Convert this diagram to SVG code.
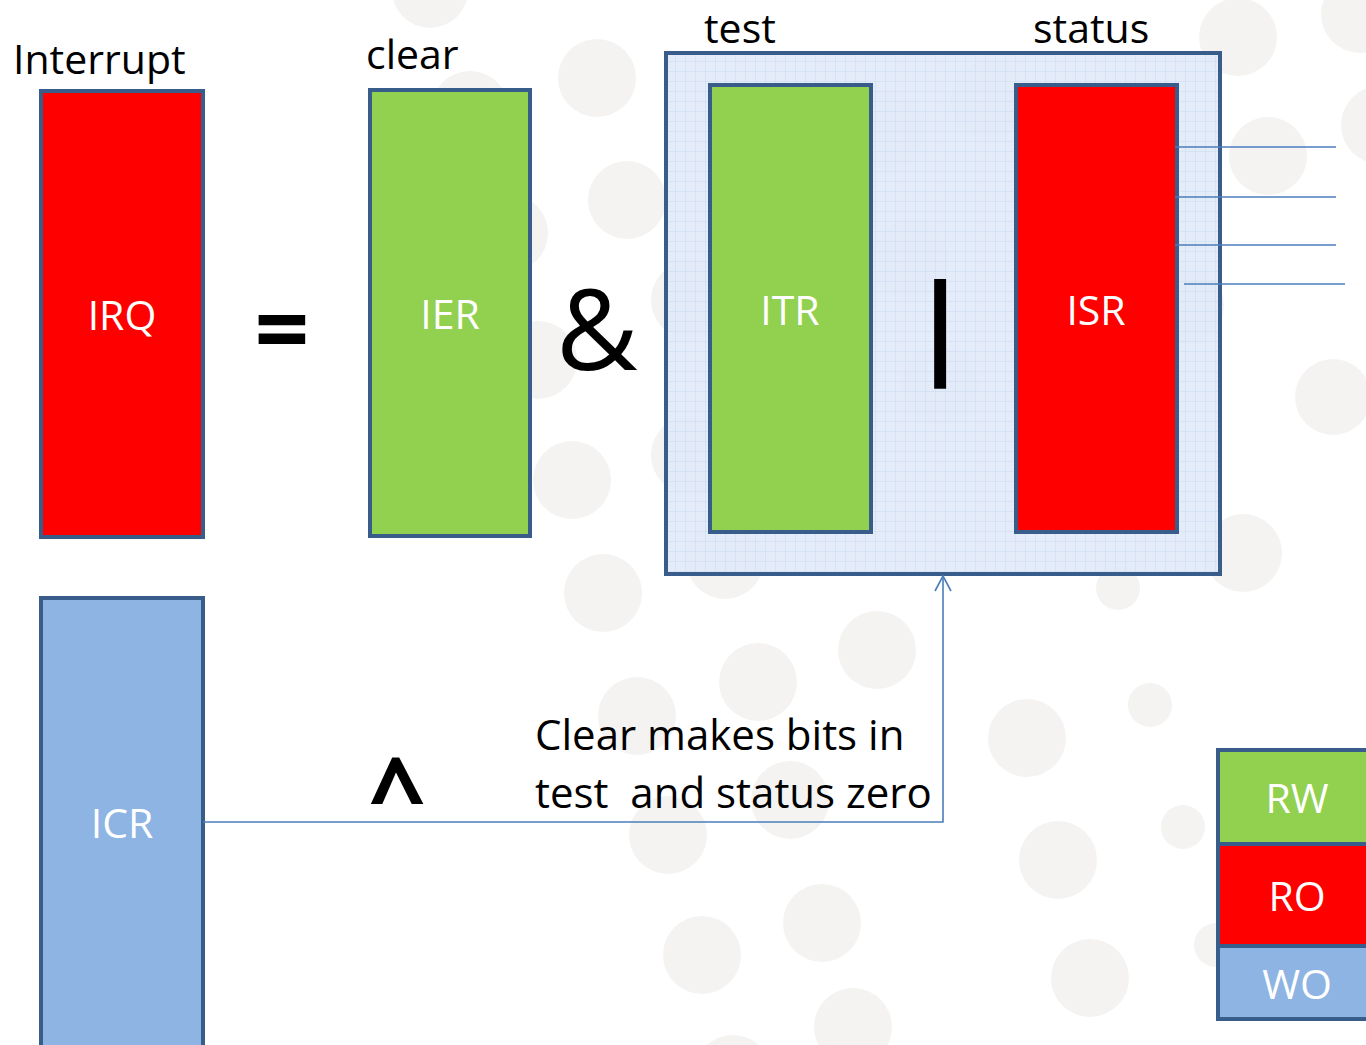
<svg xmlns="http://www.w3.org/2000/svg" width="1366" height="1045" viewBox="0 0 1366 1045">
<style>
.bg{fill:#f4f3f2}
.box{stroke:#385d8a;stroke-width:4}
.red{fill:#ff0000}
.green{fill:#92d050}
.blue{fill:#8eb4e3}
.lbl{font-family:"Open Sans","Noto Sans",sans-serif;font-size:41px;fill:#ffffff;text-anchor:middle}
.cap{font-family:"Open Sans","Noto Sans",sans-serif;font-size:41px;fill:#000000}
.note{font-size:42px}
.op{font-family:"Open Sans","Noto Sans",sans-serif;fill:#000000;text-anchor:middle}
.conn{stroke:#4a7ebb;stroke-width:1.6;fill:none}
</style>
<defs>
<pattern id="grid" width="10" height="10" patternUnits="userSpaceOnUse" x="666" y="52">
<rect width="10" height="10" fill="#e0eaf7"/>
<path d="M10 0V10M0 10H10" stroke="#c5d6ef" stroke-width="1" fill="none"/>
</pattern>
<marker id="open" markerWidth="18" markerHeight="18" refX="16" refY="9" orient="auto" markerUnits="userSpaceOnUse" viewBox="0 0 18 18">
<path d="M1 1 L16 9 L1 17" stroke="#4a7ebb" stroke-width="1.6" fill="none"/>
</marker>
</defs>
<rect width="1366" height="1045" fill="#ffffff"/>
<g id="background">
<circle class="bg" cx="430" cy="-10" r="38"/>
<circle class="bg" cx="470" cy="110" r="39"/>
<circle class="bg" cx="509" cy="233" r="39"/>
<circle class="bg" cx="538" cy="360" r="39"/>
<circle class="bg" cx="572" cy="480" r="39"/>
<circle class="bg" cx="597" cy="78" r="39"/>
<circle class="bg" cx="627" cy="200" r="39"/>
<circle class="bg" cx="603" cy="593" r="39"/>
<circle class="bg" cx="725" cy="560" r="39"/>
<circle class="bg" cx="758" cy="682" r="39"/>
<circle class="bg" cx="877" cy="650" r="39"/>
<circle class="bg" cx="637" cy="716" r="39"/>
<circle class="bg" cx="668" cy="835" r="39"/>
<circle class="bg" cx="790" cy="800" r="39"/>
<circle class="bg" cx="702" cy="955" r="39"/>
<circle class="bg" cx="822" cy="923" r="39"/>
<circle class="bg" cx="853" cy="1027" r="39"/>
<circle class="bg" cx="733" cy="1074" r="39"/>
<circle class="bg" cx="1118" cy="588" r="22"/>
<circle class="bg" cx="1150" cy="705" r="22"/>
<circle class="bg" cx="1027" cy="738" r="39"/>
<circle class="bg" cx="1183" cy="827" r="22"/>
<circle class="bg" cx="1058" cy="860" r="39"/>
<circle class="bg" cx="1090" cy="978" r="39"/>
<circle class="bg" cx="1216" cy="945" r="22"/>
<circle class="bg" cx="1238" cy="37" r="39"/>
<circle class="bg" cx="1360" cy="14" r="39"/>
<circle class="bg" cx="1268" cy="156" r="39"/>
<circle class="bg" cx="1380" cy="125" r="39"/>
<circle class="bg" cx="1333" cy="397" r="38"/>
<circle class="bg" cx="1243" cy="553" r="39"/>
<circle class="bg" cx="990" cy="100" r="39"/>
<circle class="bg" cx="885" cy="130" r="39"/>
<circle class="bg" cx="690" cy="300" r="39"/>
<circle class="bg" cx="690" cy="455" r="39"/>
<circle class="bg" cx="910" cy="260" r="39"/>
<circle class="bg" cx="940" cy="385" r="39"/>
<circle class="bg" cx="1185" cy="305" r="39"/>
</g>
<g id="labels">
<text class="cap" x="13" y="74">Interrupt</text>
<text class="cap" x="366" y="69">clear</text>
<text class="cap" x="704" y="43">test</text>
<text class="cap" x="1033" y="43">status</text>
</g>
<g id="IRQ">
<rect class="box red" x="41" y="91" width="162" height="446"/>
<text class="lbl" x="122" y="330">IRQ</text>
</g>
<g id="equals">
<text class="op" x="282" y="364" font-size="96" font-weight="bold">=</text>
</g>
<g id="IER">
<rect class="box green" x="370" y="90" width="160" height="446"/>
<text class="lbl" x="450" y="329">IER</text>
</g>
<g id="and">
<text class="op" x="597" y="370" font-size="112">&amp;</text>
</g>
<g id="group">
<rect class="box" x="666" y="53" width="554" height="521" fill="url(#grid)" fill-opacity="0.9"/>
</g>
<g id="ITR">
<rect class="box green" x="710" y="85" width="161" height="447"/>
<text class="lbl" x="790" y="325">ITR</text>
</g>
<g id="or">
<text class="op" x="940" y="364" font-size="112" font-weight="bold">|</text>
</g>
<g id="ISR">
<rect class="box red" x="1016" y="85" width="161" height="447"/>
<text class="lbl" x="1096" y="325">ISR</text>
</g>
<g id="ICR">
<rect class="box blue" x="41" y="598" width="162" height="460"/>
<text class="lbl" x="122" y="838">ICR</text>
</g>
<g id="xor">
<text class="op" x="397" y="830" font-size="100" font-weight="bold">^</text>
</g>
<g id="note">
<text class="cap note" x="535" y="750">Clear makes bits in</text>
<text class="cap note" x="535" y="808" xml:space="preserve">test  and status zero</text>
</g>
<g id="legend">
<rect class="box green" x="1218" y="750" width="170" height="94"/>
<text class="lbl" x="1297" y="813">RW</text>
<rect class="box red" x="1218" y="844" width="170" height="102"/>
<text class="lbl" x="1297" y="911">RO</text>
<rect class="box blue" x="1218" y="946" width="170" height="73"/>
<text class="lbl" x="1297" y="999">WO</text>
</g>
<g id="connectors">
<line class="conn" x1="1175" y1="147" x2="1336" y2="147"/>
<line class="conn" x1="1175" y1="197" x2="1336" y2="197"/>
<line class="conn" x1="1175" y1="245" x2="1336" y2="245"/>
<line class="conn" x1="1184" y1="284" x2="1345" y2="284"/>
<path class="conn" d="M203 822 H943 V576" marker-end="url(#open)"/>
</g>
</svg>
